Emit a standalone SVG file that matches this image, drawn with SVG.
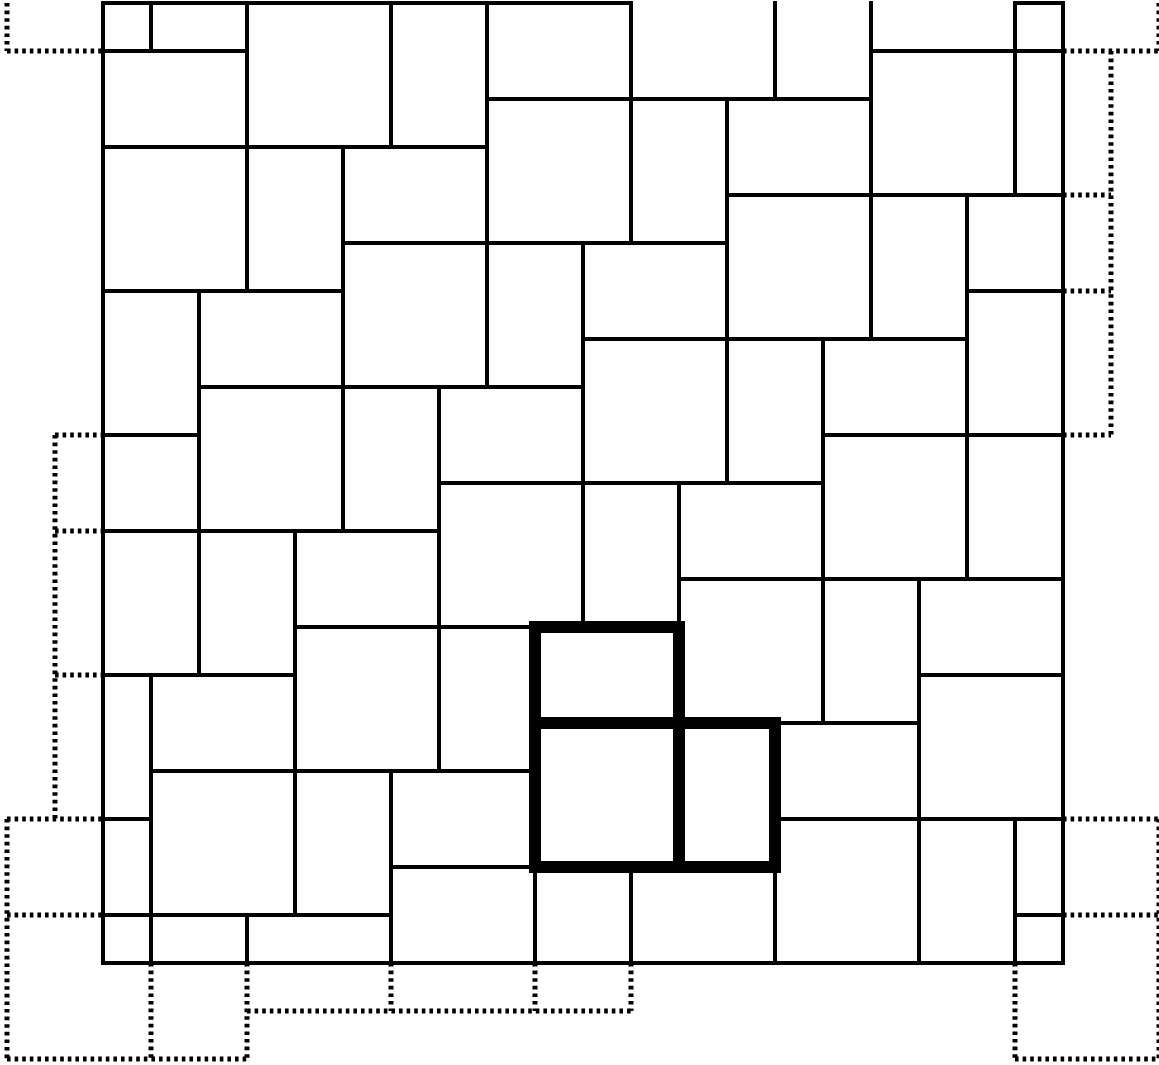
<svg xmlns="http://www.w3.org/2000/svg" width="1159" height="1065" viewBox="0 0 1159 1065">
<style>
.thin{fill:none;stroke:#000;stroke-width:4;stroke-linecap:square;}
.thick{fill:none;stroke:#000;stroke-width:12;}
.dot{fill:none;stroke:#000;stroke-width:5;stroke-dasharray:3.6 4;}
</style>
<rect width="1159" height="1065" fill="#fff"/>
<g id="tiles">
<path class="thin" d="M103 3H631 M1015 3H1063 M103 51H247 M871 51H1063 M487 99H871 M103 147H487 M727 195H1063 M343 243H727 M103 291H343 M967 291H1063 M583 339H967 M199 387H583 M103 435H199 M823 435H1063 M439 483H823 M103 531H439 M679 579H1063 M295 627H535 M103 675H295 M919 675H1063 M775 723H919 M151 771H535 M103 819H151 M775 819H1063 M391 867H535 M103 915H391 M1015 915H1063 M103 963H1063"/>
<path class="thin" d="M103 3V963 M151 3V51 M151 675V963 M199 291V675 M247 3V291 M247 915V963 M295 531V915 M343 147V531 M391 3V147 M391 771V963 M439 387V771 M487 3V387 M535 867V963 M583 243V627 M631 3V243 M631 867V963 M679 483V627 M727 99V483 M775 3V99 M775 867V963 M823 339V723 M871 3V339 M919 579V963 M967 195V579 M1015 3V195 M1015 819V963 M1063 3V963"/>
</g>
<g id="highlight">
<rect class="thick" x="535" y="627" width="144" height="96"/>
<rect class="thick" x="535" y="723" width="144" height="144"/>
<rect class="thick" x="679" y="723" width="96" height="144"/>
</g>
<g id="outside">
<path class="dot" d="M7 3V51 M7 51H103 M1063 51H1159 M1159 3V51 M1111 51V435 M1063 195H1111 M1063 291H1111 M1063 435H1111 M55 435H103 M55 435V819 M55 531H103 M55 675H103 M7 819H103 M7 819V1059 M7 1059H247 M7 915H103 M151 963V1059 M247 963V1059 M247 1011H631 M391 963V1011 M535 963V1011 M631 963V1011 M1063 819H1159 M1159 819V1059 M1063 915H1159 M1015 963V1059 M1015 1059H1159"/>
</g>
</svg>
